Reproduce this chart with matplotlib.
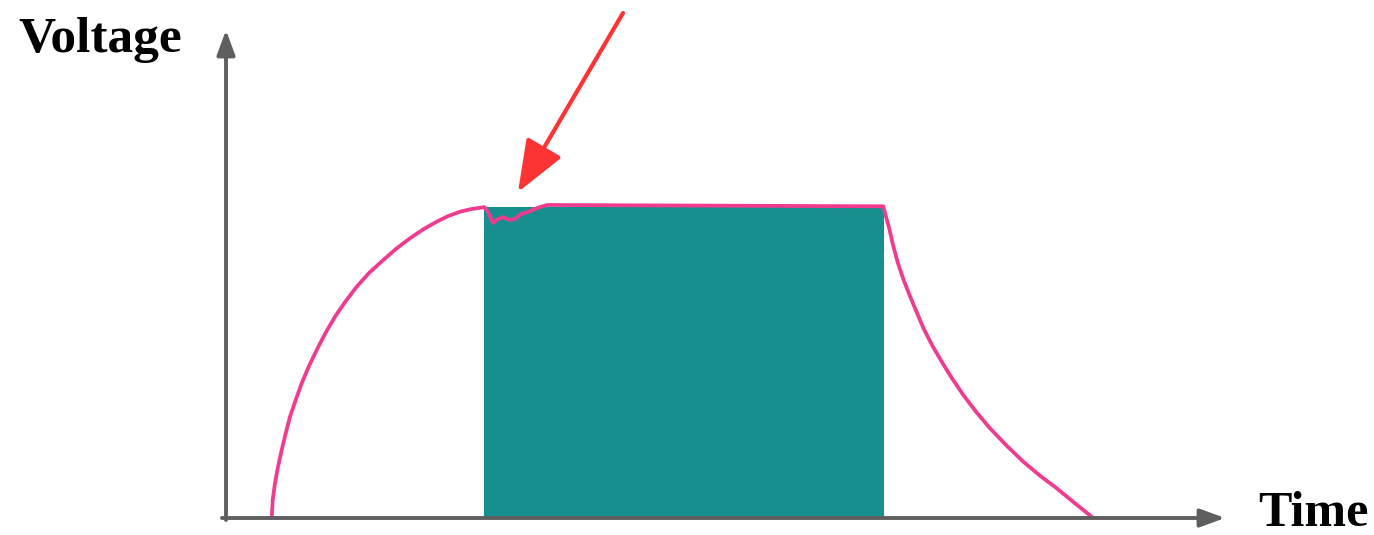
import matplotlib.pyplot as plt

# charging curve (time, voltage)
rise_t = [0.457, 0.467, 0.49, 0.52, 0.557, 0.597, 0.64, 0.697, 0.757, 0.827, 0.907, 0.993,
          1.09, 1.193, 1.307, 1.433, 1.573, 1.707, 1.84, 1.973, 2.107, 2.223, 2.34, 2.457, 2.573]
rise_v = [0.0, 0.18, 0.347, 0.513, 0.68, 0.847, 1.013, 1.18, 1.347, 1.513, 1.68, 1.847,
          2.013, 2.163, 2.313, 2.453, 2.58, 2.697, 2.797, 2.887, 2.963, 3.02, 3.063, 3.09, 3.107]

# dip while the pulse starts
dip_t = [2.58, 2.62, 2.67, 2.72, 2.77, 2.83, 2.89, 2.95, 3.02, 3.11, 3.21]
dip_v = [3.11, 3.06, 2.95, 2.99, 3.01, 2.98, 2.99, 3.04, 3.06, 3.10, 3.13]

# plateau and discharge
fall_t = [3.21, 6.573, 6.60, 6.632, 6.67, 6.715, 6.77, 6.835, 6.905, 6.975, 7.06, 7.157,
          7.26, 7.373, 7.50, 7.64, 7.80, 7.973, 8.14, 8.307, 8.49, 8.673]
fall_v = [3.13, 3.117, 3.013, 2.897, 2.73, 2.563, 2.397, 2.23, 2.063, 1.897, 1.73, 1.563,
          1.397, 1.23, 1.063, 0.897, 0.73, 0.563, 0.423, 0.297, 0.147, 0.0]

pulse_start, pulse_end, pulse_level = 2.58, 6.58, 3.11

pink = "#f03b8f"
teal = "#178f8e"
gray = "#5f5f5f"

fig = plt.figure(figsize=(13.74, 5.35), dpi=100)
ax = fig.add_axes([0, 0, 1, 1])
ax.set_xlim(-2.26, 11.48)
ax.set_ylim(-0.17, 5.18)
ax.axis("off")

ax.fill_between([pulse_start, pulse_end], 0, pulse_level, color=teal, linewidth=0)

ax.plot(rise_t + dip_t + fall_t, rise_v + dip_v + fall_v, color=pink, lw=2.7,
        solid_joinstyle="round", solid_capstyle="round")

# axes arrows
ax.annotate("", xy=(0, 4.88), xytext=(0, -0.02),
            arrowprops=dict(arrowstyle="-|>,head_length=1.5,head_width=0.55",
                            color=gray, lw=2.8, shrinkA=0, shrinkB=0))
ax.annotate("", xy=(9.99, 0), xytext=(-0.04, 0),
            arrowprops=dict(arrowstyle="-|>,head_length=1.5,head_width=0.55",
                            color=gray, lw=2.8, shrinkA=0, shrinkB=0))

# red pointer
ax.annotate("", xy=(2.92, 3.26), xytext=(3.97, 5.05),
            arrowprops=dict(arrowstyle="-|>,head_length=3.2,head_width=1.25",
                            color="#fe3333", lw=3, shrinkA=0, shrinkB=0))

ax.text(-1.26, 4.66, "Voltage", family="Liberation Serif", weight="bold",
        fontsize=37, ha="center", va="baseline")
ax.text(10.87, -0.08, "Time", family="Liberation Serif", weight="bold",
        fontsize=36, ha="center", va="baseline")

fig.savefig("out.png", dpi=100)
